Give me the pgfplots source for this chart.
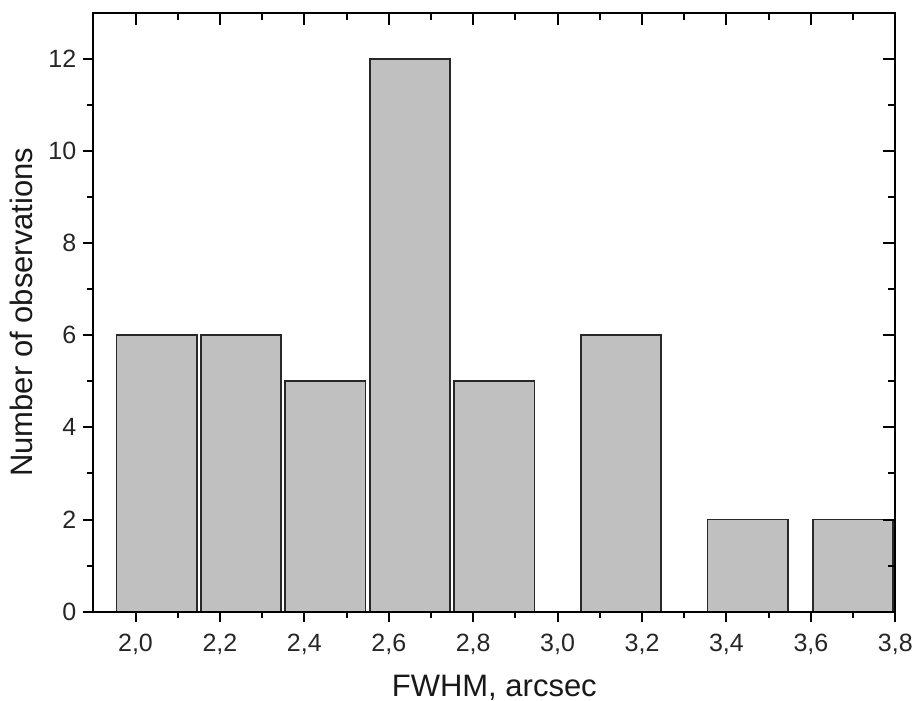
\documentclass[border=0pt]{standalone}
\usepackage{fontspec}
\setmainfont{Liberation Sans}
\usepackage{pgfplots}
\pgfplotsset{compat=1.18}
\definecolor{barfill}{RGB}{192,192,192}
\definecolor{baredge}{RGB}{40,40,40}
\begin{document}
\begin{tikzpicture}
\useasboundingbox (-46.65bp,-44.65bp) rectangle (410.85bp,305.85bp);
\begin{axis}[
  at={(0,0)}, anchor=south west,
  scale only axis, width=401bp, height=299.5bp,
  xmin=1.9, xmax=3.8, ymin=0, ymax=13,
  xtick={2.0,2.2,...,3.81}, ytick={0,2,...,12},
  minor x tick num=1, minor y tick num=1,
  tick pos=left, tick align=outside,
  major tick length=5bp, minor tick length=3bp,
  axis line style={line width=1bp},
  every tick/.style={line width=1bp, black},
  /pgf/number format/.cd, use comma, fixed, fixed zerofill, precision=1, assume math mode=true,
  /pgfplots/.cd,
  yticklabel style={/pgf/number format/precision=0, /pgf/number format/fixed zerofill=false, font=\fontsize{12.5bp}{15bp}\selectfont, color=black!85},
  xticklabel style={font=\fontsize{12.5bp}{15bp}\selectfont, color=black!85, yshift=-2.5bp},
  xlabel={FWHM, arcsec}, ylabel={Number of observations},
  label style={font=\fontsize{15.5bp}{18bp}\selectfont, color=black!90},
  xlabel style={at={(axis description cs:0.5,-0.1424)}, anchor=base},
  ylabel style={at={(axis description cs:-0.089,0.5)}, anchor=center},
  ybar, bar width=0.19, bar shift=0pt,
]
\addplot[fill=barfill, draw=baredge, line width=0.9bp] coordinates {
  (2.05,6) (2.25,6) (2.45,5) (2.65,12) (2.85,5) (3.15,6) (3.45,2) (3.70,2)
};
\end{axis}
\begin{axis}[
  at={(0,0)}, anchor=south west,
  scale only axis, width=401bp, height=299.5bp,
  xmin=1.9, xmax=3.8, ymin=0, ymax=13,
  xtick={2.0,2.2,...,3.81}, ytick={0,2,...,12},
  minor x tick num=1, minor y tick num=1,
  tick pos=right, tick align=inside,
  major tick length=6bp, minor tick length=3.5bp,
  axis line style={line width=1bp},
  every tick/.style={line width=1bp, black},
  xticklabels={}, yticklabels={},
]
\end{axis}
\end{tikzpicture}
\end{document}
